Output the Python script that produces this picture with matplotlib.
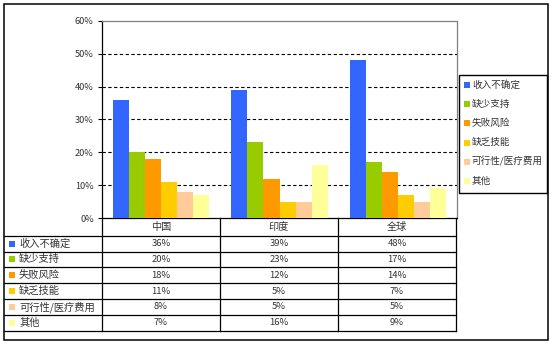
import matplotlib
matplotlib.use("Agg")
import matplotlib.pyplot as plt
from matplotlib.patches import Rectangle
from matplotlib.ticker import FuncFormatter
import numpy as np

plt.rcParams['font.family'] = ['Noto Sans CJK SC', 'DejaVu Sans']

# data
regions = ["中国", "印度", "全球"]
reasons = ["收入不确定", "缺少支持", "失败风险", "缺乏技能", "可行性/医疗费用", "其他"]
income = [36, 39, 48]
support = [20, 23, 17]
risk = [18, 12, 14]
skills = [11, 5, 7]
cost = [8, 5, 5]
other = [7, 16, 9]
series = [income, support, risk, skills, cost, other]
colors = ["#3366FF", "#99CC00", "#FF9900", "#FFCC00", "#FFCC99", "#FFFF99"]

W, H = 555, 346
fig = plt.figure(figsize=(W / 100, H / 100), dpi=100)

def px_box(x0, y0, x1, y1):
    return [x0 / W, 1 - y1 / H, (x1 - x0) / W, (y1 - y0) / H]

# bar chart area
ax = fig.add_axes(px_box(102, 21, 457, 218))
n = len(series)
bw = 0.136
x = np.arange(len(regions))
for i, (vals, c) in enumerate(zip(series, colors)):
    ax.bar(x + (i - (n - 1) / 2) * bw, np.array(vals) / 100, width=bw,
           color=c, edgecolor='none', zorder=3)

ax.set_xlim(-0.5, len(regions) - 0.5)
ax.set_ylim(0, 0.6)
ax.set_yticks(np.arange(0, 0.61, 0.1))
ax.yaxis.set_major_formatter(FuncFormatter(lambda v, p: f"{v * 100:.0f}%"))
ax.set_xticks([])
ax.tick_params(axis='y', length=3, width=0.8, pad=3, labelsize=6.6,
               labelcolor='#333333')
for yv in np.arange(0.1, 0.55, 0.1):
    ax.axhline(yv, color='black', linewidth=0.8, linestyle=(0, (3, 2.2)), zorder=1)
ax.spines['left'].set_color('black')
ax.spines['bottom'].set_color('black')
ax.spines['top'].set_color('#808080')
ax.spines['right'].set_color('#808080')
for s in ax.spines.values():
    s.set_linewidth(0.9)

# overlay in pixel coordinates for the frame, legend and data table
ov = fig.add_axes([0, 0, 1, 1])
ov.set_xlim(0, W)
ov.set_ylim(H, 0)
ov.axis('off')
ov.patch.set_alpha(0)

ov.add_patch(Rectangle((4, 4), 544, 336, fill=False, edgecolor='black', linewidth=1.1))

# legend
ov.add_patch(Rectangle((459, 75), 88, 118, fill=False, edgecolor='black', linewidth=1.0))
for i, (name, c) in enumerate(zip(reasons, colors)):
    yc = 85 + i * 19.2
    ov.add_patch(Rectangle((464, yc - 3), 6, 6, facecolor=c, edgecolor='none'))
    ov.text(472, yc, name, fontsize=6.9, va='center', ha='left', color='#333333')

# data table
col_x = [102, 220, 338, 456]
row_y = [235.7 + 15.8 * k for k in range(len(reasons) + 1)]
lw = 0.9
for yv in row_y:
    ov.plot([4, 456], [yv, yv], color='black', linewidth=lw)
for xv in col_x:
    ov.plot([xv, xv], [218, row_y[-1]], color='black', linewidth=lw)

for j, reg in enumerate(regions):
    xc = (col_x[j] + col_x[j + 1]) / 2
    ov.text(xc, 227, reg, fontsize=7.3, ha='center', va='center', color='#333333')

for i, (name, vals, c) in enumerate(zip(reasons, series, colors)):
    yc = (row_y[i] + row_y[i + 1]) / 2
    ov.add_patch(Rectangle((9, yc - 3), 6, 6, facecolor=c, edgecolor='none'))
    ov.text(19, yc, name, fontsize=7.4, ha='left', va='center', color='#333333')
    for j, v in enumerate(vals):
        xc = (col_x[j] + col_x[j + 1]) / 2
        ov.text(xc, yc, f"{v}%", fontsize=6.8, ha='center', va='center', color='#333333')

fig.savefig("out.png", dpi=100)
